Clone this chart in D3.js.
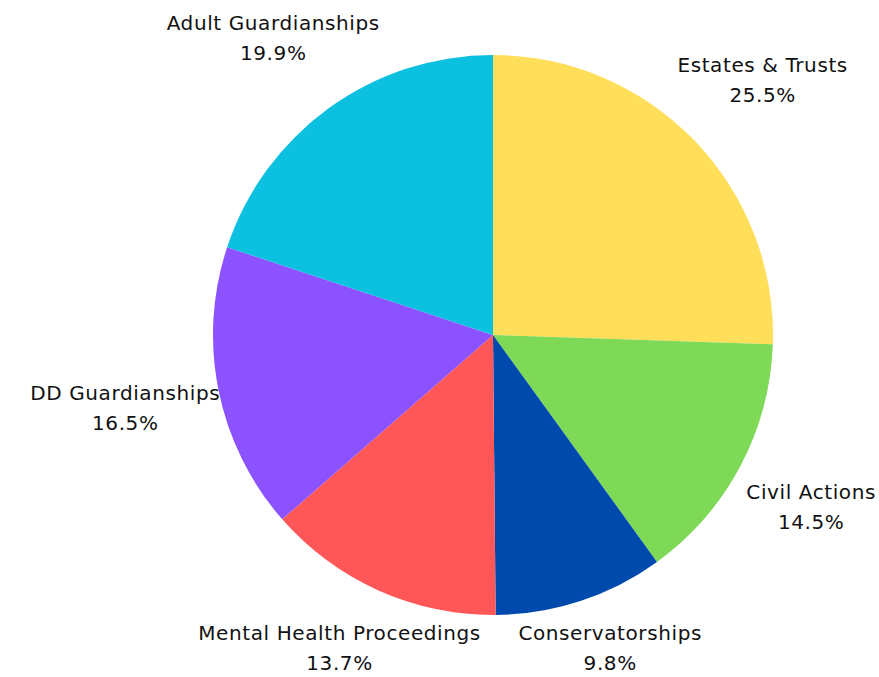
<!DOCTYPE html>
<html><head><meta charset="utf-8">
<script src="https://cdn.jsdelivr.net/npm/d3@7"></script>
<style>body{margin:0;background:#fff}svg{display:block}</style>
</head><body>
<svg id="chart" width="879" height="677"></svg>
<script>
const categories = ["Estates & Trusts","Civil Actions","Conservatorships","Mental Health Proceedings","DD Guardianships","Adult Guardianships"];
const values = [25.5,14.5,9.8,13.7,16.5,19.9];
const colors = ["#FFDE59","#7ED957","#004AAD","#FF5757","#8C52FF","#0CC0DF"];

const W=879,H=677,cx=493,cy=335,R=280,LRx=R*1.34,LRy=R*1.31;
const svg=d3.select("#chart");
const g=svg.append("g").attr("transform",`translate(${cx},${cy})`);
const pie=d3.pie().sort(null).value(d=>d.v);
const data=categories.map((c,i)=>({c,v:values[i],col:colors[i]}));
const arcs=pie(data);
const arc=d3.arc().innerRadius(0).outerRadius(R);
g.selectAll("path").data(arcs).join("path").attr("d",arc).attr("fill",d=>d.data.col);

const fontFam="'DejaVu Sans', sans-serif";
const fs=20, lh=30;
arcs.forEach(a=>{
  const m=(a.startAngle+a.endAngle)/2;
  let x=Math.sin(m)*LRx, y=-Math.cos(m)*LRy;
  const maxY=H-cy-29;
  if(y>maxY) y=maxY;
  const t=g.append("text").attr("text-anchor","middle").attr("font-family",fontFam)
    .attr("font-size",fs).attr("letter-spacing",0.6).attr("fill","#111");
  const s1=t.append("tspan").attr("x",x).attr("y",y-lh/2).attr("dy","0.35em").text(a.data.c);
  const s2=t.append("tspan").attr("x",x).attr("y",y+lh/2).attr("dy","0.35em").text(a.data.v.toFixed(1)+"%");
  const bb=t.node().getBBox();
  let shift=0;
  if(cx+bb.x+bb.width>W-3) shift=(W-3)-(cx+bb.x+bb.width);
  if(cx+bb.x<3) shift=3-(cx+bb.x);
  if(shift){s1.attr("x",x+shift);s2.attr("x",x+shift);}
});
</script>
</body></html>
